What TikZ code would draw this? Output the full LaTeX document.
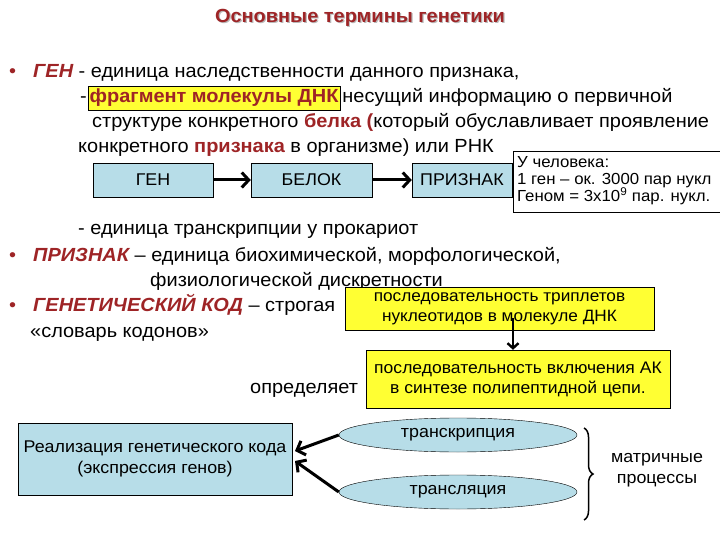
\documentclass[tikz,border=0pt]{standalone}
\usepackage{fontspec}
\setmainfont{Liberation Sans}[FakeStretch=1.05]
\usetikzlibrary{arrows.meta,shapes.geometric,decorations.pathreplacing}
\definecolor{dred}{HTML}{9E2426}
\definecolor{lblue}{HTML}{B7DDE8}
\definecolor{yel}{HTML}{FFFF33}
\begin{document}
\begin{tikzpicture}[x=1pt,y=-1pt,
  body/.style={anchor=base west,inner sep=0pt,font=\fontsize{19}{23}\selectfont},
  chainbox/.style={draw=black,fill=lblue,minimum height=34pt,inner sep=0pt,font=\fontsize{17}{20}\selectfont},
  ybox/.style={draw=black,fill=yel,inner sep=0pt,align=center},
  oval/.style={ellipse,draw=black,fill=lblue,minimum width=238pt,minimum height=34pt,inner sep=0pt,font=\fontsize{17}{20}\selectfont},
  bigarrow/.style={line width=3pt,-{Straight Barb[length=7pt,width=15pt]}},
  notetext/.style={anchor=base west,inner sep=0pt,font=\fontsize{16}{19}\selectfont},
]
\useasboundingbox (0,0) rectangle (720,540);
\clip (0,0) rectangle (720,540);
\fill[white] (0,0) rectangle (720,540);

% title
\node[text=gray!55,font=\fontsize{19}{22}\selectfont\bfseries] at (361.2,19.2) {Основные термины генетики};
\node (title) [text=dred,font=\fontsize{19}{22}\selectfont\bfseries] at (360,18) {Основные термины генетики};

% GEN
\node (b1) [body,text=dred] at (9,78) {•};
\node (l1) [body] at (33,78) {\textcolor{dred}{\bfseries\itshape ГЕН} - единица наследственности данного признака,};
\node (l2a) [body] at (80,103) {-};
\node (frag) [draw=black,fill=yel,inner xsep=1.5pt,inner ysep=3pt,anchor=base west,text=dred,font=\fontsize{19}{23}\selectfont\bfseries] at (88,103) {фрагмент молекулы ДНК};
\node (l2b) [body,anchor=base west] at ([xshift=2pt]frag.base east) {несущий информацию о первичной};
\node (l3) [body] at (92,128) {структуре конкретного \textcolor{dred}{\bfseries белка (}который обуславливает проявление};
\node (l4) [body] at (78,153) {конкретного \textcolor{dred}{\bfseries признака} в организме) или РНК};

% chain
\node (gen) [chainbox,minimum width=120pt] at (153,180) {ГЕН};
\node (belok) [chainbox,minimum width=121pt] at (311.5,180) {БЕЛОК};
\node (priz) [chainbox,minimum width=100pt] at (462,180) {ПРИЗНАК};
\draw[bigarrow] (gen) -- (belok);
\draw[bigarrow] (belok) -- (priz);

% note
\node (note) [draw=black,fill=white,anchor=north west,minimum width=215pt,minimum height=61pt,inner sep=0pt] at (513,151) {};
\node (n1) [notetext] at (517,168) {У человека:};
\node (n2) [notetext] at (517,185) {1 ген – ок. 3000 пар нукл};
\node (n3) [notetext] at (517,202) {Геном = 3x10\textsuperscript{9} пар. нукл.};

\node (l5) [body] at (78,235) {- единица транскрипции у прокариот};
\node (b2) [body,text=dred] at (9,261) {•};
\node (l6) [body] at (33,261) {\textcolor{dred}{\bfseries\itshape ПРИЗНАК} – единица биохимической, морфологической,};
\node (l7) [body] at (150,286) {физиологической дискретности};
\node (b3) [body,text=dred] at (9,311) {•};
\node (l8) [body] at (33,311) {\textcolor{dred}{\bfseries\itshape ГЕНЕТИЧЕСКИЙ КОД} – строгая};
\node (l9) [body] at (30,337) {«словарь кодонов»};
\node (opr) [body] at (250,393) {определяет};

% yellow boxes
\node (y1) [ybox,minimum width=309pt,minimum height=43pt,font=\fontsize{16.4}{20}\selectfont] at (499.5,308.5) {последовательность триплетов\\нуклеотидов в молекуле ДНК};
\node (y2) [ybox,minimum width=304pt,minimum height=58pt,font=\fontsize{16.7}{20}\selectfont] at (518,379) {последовательность включения АК\\в синтезе полипептидной цепи.};
\coordinate (ys) at (513,318);
\draw[line width=2.4pt,-{Straight Barb[length=5pt,width=11pt]}] (ys) -- (y2.north -| ys);

% bottom
\node (real) [draw=black,fill=lblue,minimum width=274pt,minimum height=72pt,align=center,inner sep=0pt,font=\fontsize{17}{21}\selectfont] at (155,459) {Реализация генетического кода\\(экспрессия генов)};
\node (tr1) [oval] at (458,435) {транскрипция};
\node (tr2) [oval] at (458,492) {трансляция};
\coordinate (r1) at (295,451);
\coordinate (r2) at (295,461);
\draw[bigarrow] (tr1.west) -- (r1);
\draw[bigarrow] (tr2.west) -- (r2);
\draw[line width=1.5pt,decorate,decoration={brace,amplitude=9pt}] (584,428) -- (584,520);
\node (mat) [align=center,font=\fontsize{17}{21}\selectfont] at (657,470) {матричные\\процессы};
\end{tikzpicture}
\end{document}
